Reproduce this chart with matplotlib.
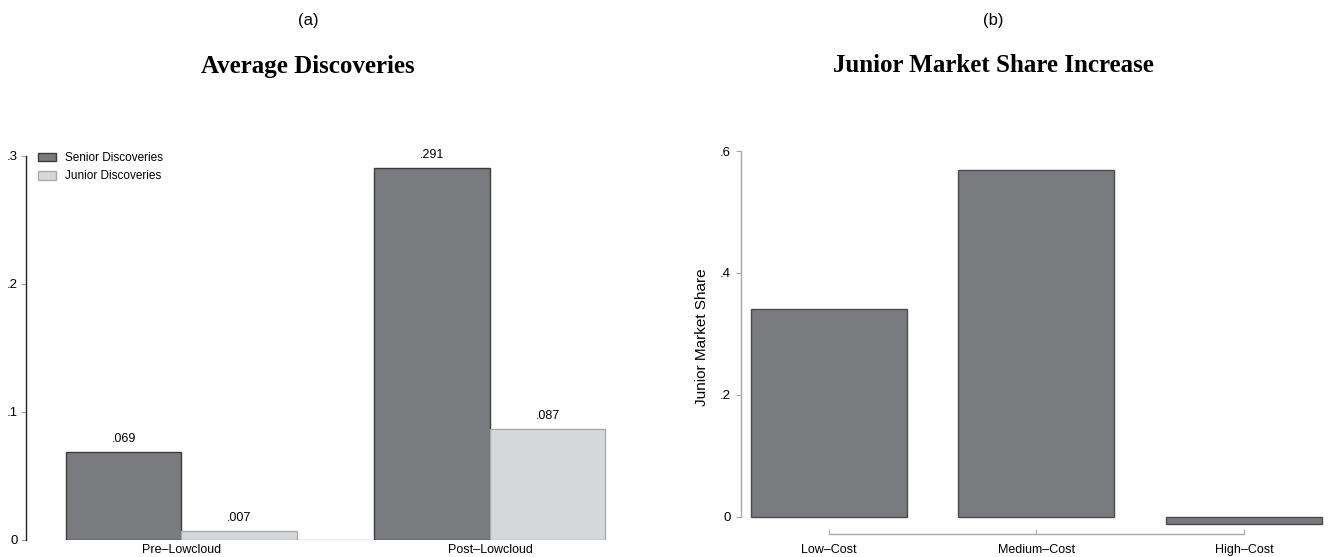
import matplotlib
matplotlib.use("Agg")
import matplotlib.pyplot as plt
from matplotlib.patches import Patch

# ---- data -------------------------------------------------------------
periods = ["Pre\u2013Lowcloud", "Post\u2013Lowcloud"]
senior_disc = [0.069, 0.291]
junior_disc = [0.007, 0.087]
left_ticks = [0, 0.1, 0.2, 0.3]
left_ticklabels = ["0", ".1", ".2", ".3"]

cost_groups = ["Low\u2013Cost", "Medium\u2013Cost", "High\u2013Cost"]
junior_share = [0.341, 0.569, -0.012]
right_ticks = [0, 0.2, 0.4, 0.6]
right_ticklabels = ["0", ".2", ".4", ".6"]

# ---- style ------------------------------------------------------------
W, H, DPI = 1328, 557, 100
SANS = ["Liberation Sans", "DejaVu Sans"]
SERIF = ["Liberation Serif", "DejaVu Serif"]
plt.rcParams["font.family"] = SANS
DARK = "#7a7b7f"
DARK_EDGE = "#3c3c3e"
LIGHT = "#d6d7d9"
LIGHT_EDGE = "#a9aaac"
AXGREY = "#a8a8a8"

fig = plt.figure(figsize=(W / DPI, H / DPI), dpi=DPI)


def axes_px(left, right, top, bottom):
    return fig.add_axes([left / W, 1 - bottom / H, (right - left) / W, (bottom - top) / H])


def fmt(v):
    s = f"{v:.3f}"
    return s[1:] if s.startswith("0") else s


# ---- panel (a): average discoveries ------------------------------------
ax1 = axes_px(26, 620, 156, 540)
bw = 1.0
gap = 2.671
xs = [i * gap for i in range(len(periods))]
b1 = ax1.bar([x - bw / 2 for x in xs], senior_disc, width=bw, color=DARK,
             edgecolor=DARK_EDGE, linewidth=1.0, label="Senior Discoveries")
b2 = ax1.bar([x + bw / 2 for x in xs], junior_disc, width=bw, color=LIGHT,
             edgecolor=LIGHT_EDGE, linewidth=1.0, label="Junior Discoveries")
ax1.plot([xs[0] - bw, xs[-1] + bw], [0, 0], color=AXGREY, lw=1.0, zorder=0.5)
for bars, vals in ((b1, senior_disc), (b2, junior_disc)):
    for r, v in zip(bars, vals):
        ax1.annotate(fmt(v), (r.get_x() + r.get_width() / 2, v),
                     xytext=(0, 5), textcoords="offset points",
                     ha="center", va="bottom", fontsize=9, clip_on=False)

ax1.set_xlim(-1.346, 3.797)
ax1.set_ylim(0, 0.3)
for s in ("top", "right", "bottom"):
    ax1.spines[s].set_visible(False)
ax1.spines["left"].set_color("#222222")
ax1.spines["left"].set_linewidth(1.0)
ax1.spines["left"].set_bounds(0, 0.3)
ax1.set_yticks(left_ticks)
ax1.set_yticklabels(left_ticklabels)
ax1.set_xticks(xs)
ax1.set_xticklabels(periods)
ax1.tick_params(axis="y", length=3.6, width=0.8, color=AXGREY, pad=2, labelsize=9.5)
ax1.tick_params(axis="x", length=0, pad=3, labelsize=9)

ax1.legend(handles=[Patch(facecolor=DARK, edgecolor=DARK_EDGE, lw=1.0, label="Senior Discoveries"),
                    Patch(facecolor=LIGHT, edgecolor=LIGHT_EDGE, lw=1.0, label="Junior Discoveries")],
           loc="upper left", bbox_to_anchor=(38 / W, 1 - 152 / H),
           bbox_transform=fig.transFigure, frameon=False, fontsize=8.5,
           handlelength=1.55, handleheight=0.75, handletextpad=0.75,
           labelspacing=0.55, borderpad=0, borderaxespad=0)

fig.text(308 / W, 1 - 20 / H, "(a)", ha="center", va="center", fontsize=12)
fig.text(308 / W, 1 - 66 / H, "Average Discoveries", ha="center", va="center",
         fontsize=18, fontweight="bold", family=SERIF)

# ---- panel (b): junior market share increase ---------------------------
ax2 = axes_px(741, 1328, 151, 534)
pos = list(range(len(cost_groups)))
ax2.bar(pos, junior_share, width=0.752, color=DARK, edgecolor="#4a4a4c", linewidth=1.0)
ax2.set_xlim(-0.424, 2.405)
ax2.set_ylim(-0.0279, 0.6)
for s in ("top", "right"):
    ax2.spines[s].set_visible(False)
ax2.spines["left"].set_color(AXGREY)
ax2.spines["left"].set_linewidth(1.0)
ax2.spines["left"].set_bounds(0, 0.6)
ax2.spines["bottom"].set_color(AXGREY)
ax2.spines["bottom"].set_linewidth(1.0)
ax2.spines["bottom"].set_bounds(pos[0], pos[-1])
ax2.set_yticks(right_ticks)
ax2.set_yticklabels(right_ticklabels)
ax2.set_xticks(pos)
ax2.set_xticklabels(cost_groups)
ax2.tick_params(axis="y", length=3.6, width=0.8, color=AXGREY, pad=4, labelsize=9.5)
ax2.tick_params(axis="x", direction="in", length=3.6, width=0.8, color=AXGREY, pad=7, labelsize=9)
ax2.set_ylabel("Junior Market Share", fontsize=11)
ax2.yaxis.set_label_coords((709 - 741) / (1328 - 741), (534 - 337) / (534 - 151))

fig.text(993 / W, 1 - 20 / H, "(b)", ha="center", va="center", fontsize=12)
fig.text(993 / W, 1 - 66 / H, "Junior Market Share Increase", ha="center", va="center",
         fontsize=18, fontweight="bold", family=SERIF)

fig.savefig("out.png", dpi=DPI)
